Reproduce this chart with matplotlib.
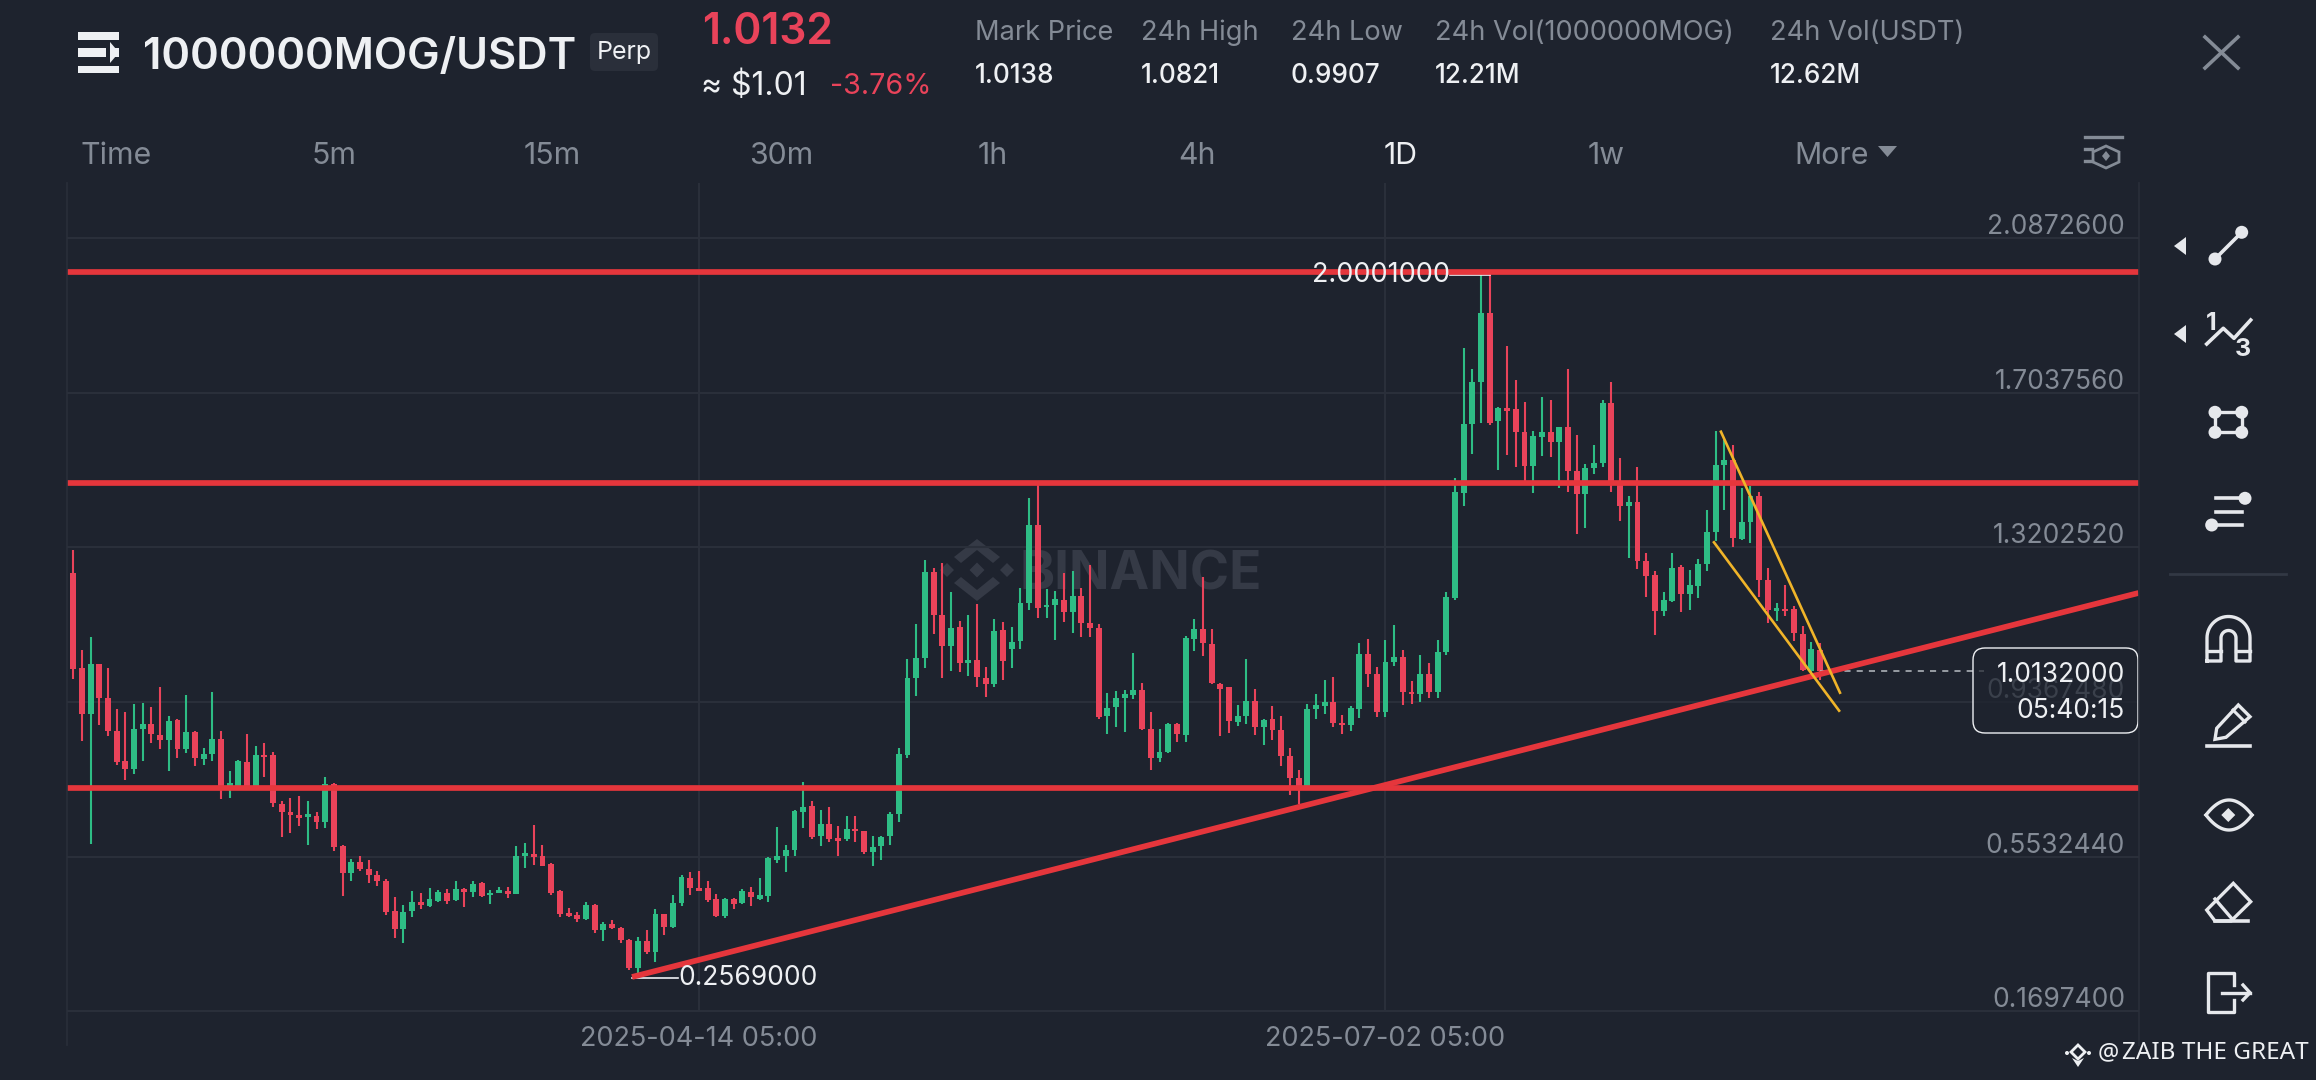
import numpy as np
import matplotlib
matplotlib.use("Agg")
import matplotlib.pyplot as plt
from matplotlib.patches import Circle, FancyBboxPatch, Polygon, Rectangle

# daily candles, left to right
opens = [1.258, 1.022, 0.908, 1.031, 0.948, 0.866, 0.790, 0.771, 0.871, 0.882,
         0.856, 0.843, 0.893, 0.820, 0.863, 0.795, 0.809, 0.845, 0.725, 0.725,
         0.787, 0.725, 0.805, 0.805, 0.685, 0.664, 0.657, 0.652, 0.654, 0.640,
         0.734, 0.579, 0.513, 0.540, 0.523, 0.508, 0.494, 0.418, 0.375, 0.418,
         0.442, 0.432, 0.444, 0.464, 0.446, 0.474, 0.465, 0.487, 0.457, 0.464,
         0.467, 0.461, 0.556, 0.558, 0.554, 0.536, 0.467, 0.414, 0.409, 0.398,
         0.434, 0.371, 0.387, 0.376, 0.347, 0.277, 0.343, 0.317, 0.411, 0.380,
         0.439, 0.500, 0.474, 0.475, 0.449, 0.406, 0.447, 0.439, 0.465, 0.449,
         0.456, 0.544, 0.554, 0.571, 0.665, 0.678, 0.604, 0.635, 0.597, 0.596,
         0.622, 0.616, 0.566, 0.579, 0.604, 0.659, 0.806, 0.996, 1.045, 1.259,
         1.152, 1.076, 1.124, 1.033, 1.041, 0.997, 0.982, 1.116, 1.069, 1.088,
         1.182, 1.375, 1.172, 1.177, 1.191, 1.160, 1.201, 1.132, 1.121, 0.901,
         0.924, 0.946, 0.954, 0.967, 0.870, 0.797, 0.812, 0.882, 0.855, 1.094,
         1.119, 1.080, 0.981, 0.973, 0.888, 0.903, 0.940, 0.876, 0.894, 0.868,
         0.802, 0.748, 0.725, 0.919, 0.927, 0.937, 0.885, 0.880, 0.919, 1.055,
         1.006, 0.911, 1.035, 1.049, 0.962, 0.956, 1.006, 0.962, 1.061, 1.195,
         1.455, 1.626, 1.732, 1.901, 1.633, 1.664, 1.664, 1.608, 1.523, 1.594,
         1.607, 1.581, 1.620, 1.511, 1.454, 1.517, 1.530, 1.678, 1.476, 1.424,
         1.432, 1.286, 1.251, 1.162, 1.187, 1.272, 1.206, 1.224, 1.280, 1.358,
         1.525, 1.538, 1.341, 1.383, 1.449, 1.239, 1.162, 1.168, 1.167, 1.105,
         1.014, 1.066]
highs = [1.314, 1.066, 1.099, 1.031, 1.022, 0.919, 0.911, 0.931, 0.934, 0.924,
         0.973, 0.901, 0.896, 0.954, 0.866, 0.822, 0.962, 0.864, 0.767, 0.794,
         0.857, 0.828, 0.835, 0.812, 0.692, 0.698, 0.703, 0.692, 0.665, 0.752,
         0.736, 0.583, 0.548, 0.556, 0.546, 0.517, 0.497, 0.454, 0.434, 0.468,
         0.464, 0.475, 0.470, 0.472, 0.494, 0.475, 0.492, 0.490, 0.470, 0.479,
         0.479, 0.579, 0.588, 0.633, 0.583, 0.538, 0.470, 0.426, 0.416, 0.441,
         0.436, 0.391, 0.395, 0.380, 0.348, 0.353, 0.371, 0.423, 0.411, 0.459,
         0.508, 0.515, 0.517, 0.493, 0.461, 0.451, 0.451, 0.472, 0.478, 0.500,
         0.552, 0.628, 0.581, 0.668, 0.739, 0.692, 0.668, 0.676, 0.630, 0.654,
         0.655, 0.618, 0.604, 0.604, 0.664, 0.822, 1.043, 1.130, 1.290, 1.270,
         1.282, 1.211, 1.138, 1.154, 1.179, 1.025, 1.144, 1.135, 1.124, 1.220,
         1.443, 1.478, 1.218, 1.212, 1.256, 1.262, 1.220, 1.276, 1.130, 0.960,
         0.965, 0.967, 1.058, 0.984, 0.913, 0.871, 0.885, 0.886, 1.101, 1.144,
         1.248, 1.119, 0.984, 0.975, 0.929, 1.043, 0.970, 0.894, 0.927, 0.901,
         0.824, 0.769, 0.932, 0.956, 0.992, 0.998, 0.904, 0.927, 1.083, 1.094,
         1.025, 1.091, 1.128, 1.066, 0.989, 1.053, 1.033, 1.091, 1.209, 1.492,
         1.814, 1.763, 1.996, 2.000, 1.670, 1.820, 1.736, 1.682, 1.610, 1.693,
         1.685, 1.620, 1.762, 1.600, 1.528, 1.575, 1.686, 1.730, 1.543, 1.447,
         1.521, 1.307, 1.261, 1.210, 1.307, 1.278, 1.264, 1.292, 1.414, 1.610,
         1.587, 1.575, 1.468, 1.473, 1.459, 1.270, 1.183, 1.228, 1.175, 1.125,
         1.086, 1.0821]
lows = [0.993, 0.841, 0.585, 0.880, 0.853, 0.781, 0.744, 0.758, 0.791, 0.835,
        0.820, 0.765, 0.797, 0.810, 0.779, 0.781, 0.791, 0.696, 0.698, 0.725,
        0.725, 0.725, 0.752, 0.676, 0.603, 0.612, 0.630, 0.583, 0.622, 0.624,
        0.567, 0.456, 0.494, 0.518, 0.489, 0.480, 0.409, 0.352, 0.340, 0.404,
        0.424, 0.429, 0.441, 0.437, 0.444, 0.428, 0.452, 0.454, 0.436, 0.462,
        0.451, 0.460, 0.525, 0.533, 0.530, 0.457, 0.403, 0.403, 0.390, 0.396,
        0.365, 0.343, 0.373, 0.340, 0.272, 0.257, 0.313, 0.291, 0.360, 0.376,
        0.432, 0.457, 0.469, 0.441, 0.404, 0.400, 0.423, 0.437, 0.431, 0.446,
        0.442, 0.538, 0.515, 0.556, 0.624, 0.597, 0.579, 0.589, 0.556, 0.593,
        0.589, 0.560, 0.531, 0.546, 0.583, 0.639, 0.797, 0.951, 1.022, 1.105,
        0.997, 1.014, 1.012, 1.002, 0.975, 0.949, 0.975, 0.991, 1.022, 1.068,
        1.165, 1.146, 1.146, 1.092, 1.135, 1.109, 1.097, 1.099, 0.896, 0.857,
        0.874, 0.863, 0.944, 0.868, 0.769, 0.787, 0.810, 0.838, 0.837, 1.064,
        1.051, 0.981, 0.853, 0.860, 0.878, 0.882, 0.855, 0.830, 0.843, 0.777,
        0.705, 0.684, 0.725, 0.894, 0.907, 0.876, 0.857, 0.866, 0.898, 0.975,
        0.899, 0.899, 1.026, 0.929, 0.931, 0.937, 0.948, 0.948, 1.053, 1.189,
        1.422, 1.553, 1.630, 1.624, 1.513, 1.550, 1.520, 1.484, 1.455, 1.548,
        1.544, 1.468, 1.459, 1.353, 1.369, 1.503, 1.521, 1.458, 1.385, 1.293,
        1.267, 1.198, 1.104, 1.150, 1.185, 1.160, 1.165, 1.195, 1.261, 1.336,
        1.414, 1.322, 1.338, 1.332, 1.198, 1.134, 1.138, 1.150, 1.088, 1.014,
        1.011, 0.9907]
closes = [1.020, 0.908, 1.031, 0.948, 0.866, 0.787, 0.771, 0.871, 0.882, 0.857,
          0.843, 0.891, 0.820, 0.863, 0.797, 0.809, 0.845, 0.725, 0.736, 0.791,
          0.725, 0.805, 0.800, 0.687, 0.664, 0.657, 0.650, 0.657, 0.639, 0.734,
          0.577, 0.512, 0.540, 0.523, 0.508, 0.492, 0.416, 0.373, 0.416, 0.442,
          0.434, 0.447, 0.465, 0.444, 0.474, 0.465, 0.486, 0.456, 0.464, 0.470,
          0.461, 0.556, 0.563, 0.553, 0.531, 0.464, 0.412, 0.406, 0.398, 0.434,
          0.371, 0.387, 0.376, 0.346, 0.277, 0.345, 0.317, 0.411, 0.380, 0.439,
          0.503, 0.475, 0.469, 0.445, 0.406, 0.449, 0.437, 0.467, 0.453, 0.457,
          0.550, 0.556, 0.571, 0.666, 0.676, 0.602, 0.635, 0.597, 0.593, 0.622,
          0.617, 0.564, 0.577, 0.602, 0.659, 0.807, 0.996, 1.045, 1.259, 1.152,
          1.076, 1.121, 1.033, 1.041, 0.998, 0.982, 1.113, 1.039, 1.087, 1.182,
          1.375, 1.171, 1.177, 1.193, 1.160, 1.201, 1.132, 1.121, 0.899, 0.923,
          0.946, 0.956, 0.967, 0.870, 0.797, 0.812, 0.883, 0.857, 1.096, 1.119,
          1.083, 0.984, 0.970, 0.890, 0.901, 0.940, 0.876, 0.893, 0.868, 0.802,
          0.748, 0.729, 0.919, 0.929, 0.937, 0.885, 0.880, 0.923, 1.055, 1.006,
          0.911, 1.035, 1.049, 0.962, 0.956, 1.006, 0.962, 1.061, 1.198, 1.457,
          1.626, 1.732, 1.901, 1.630, 1.666, 1.660, 1.608, 1.523, 1.596, 1.607,
          1.581, 1.620, 1.509, 1.454, 1.517, 1.530, 1.678, 1.476, 1.422, 1.432,
          1.286, 1.249, 1.162, 1.190, 1.270, 1.206, 1.226, 1.280, 1.358, 1.525,
          1.538, 1.344, 1.383, 1.447, 1.239, 1.165, 1.171, 1.162, 1.109, 1.016,
          1.068, 1.0132]

price_ticks = [2.08726, 1.703756, 1.320252, 0.936748, 0.553244, 0.16974]
price_labels = ["2.0872600", "1.7037560", "1.3202520", "0.9367480", "0.5532440", "0.1697400"]
date_ticks = [72, 151]
date_labels = ["2025-04-14 05:00", "2025-07-02 05:00"]

# hand drawn levels and lines on the chart
levels = [2.004, 1.480, 0.724]
trend_x = [64.3, 237.65]
trend_y = [0.2548, 1.2074]
wedge_upper_x = [189.6, 203.3]
wedge_upper_y = [1.6075, 0.9600]
wedge_lower_x = [188.8, 203.2]
wedge_lower_y = [1.3331, 0.9154]

last_price = 1.0132
high_label = "2.0001000"
low_label = "0.2569000"

stat_names = ["Mark Price", "24h High", "24h Low", "24h Vol(1000000MOG)", "24h Vol(USDT)"]
stat_values = ["1.0138", "1.0821", "0.9907", "12.21M", "12.62M"]
intervals = ["Time", "5m", "15m", "30m", "1h", "4h", "1D", "1w", "More"]

BG = "#1e232e"
GRID = "#2a2f3a"
RED = "#e9435a"
GREEN = "#2ebd85"
LINE_RED = "#e5363c"
YELLOW = "#f0b429"
GRAY = "#848b96"
WHITE = "#eef0f3"
FONT = "Inter"

plt.rcParams["font.family"] = [FONT, "DejaVu Sans"]

W, H = 2316, 1080
fig = plt.figure(figsize=(W / 100, H / 100), dpi=100, facecolor=BG)


def pixel_axes(zorder):
    a = fig.add_axes([0, 0, 1, 1], zorder=zorder)
    a.set_xlim(0, W); a.set_ylim(H, 0)
    a.axis("off")
    a.patch.set_alpha(0)
    return a


under = pixel_axes(0)
over = pixel_axes(5)

# chart area runs x 67..2138.5, y 183..1012 in pixels
ax = fig.add_axes([67 / W, 1 - 1012 / H, (2138.5 - 67) / W, (1012 - 183) / H], zorder=2)
ax.patch.set_alpha(0)
ax.set_xlim(-0.714, 237.65)
ax.set_ylim(0.1679, 2.2245)
for s in ax.spines.values():
    s.set_visible(False)

ax.set_yticks(price_ticks)
ax.set_yticklabels([])
ax.set_xticks(date_ticks)
ax.set_xticklabels(date_labels, color=GRAY, fontsize=19.5)
ax.tick_params(axis="both", length=0)
ax.tick_params(axis="x", pad=10)
ax.grid(True, color=GRID, linewidth=1.5, zorder=0)
ax.set_axisbelow(True)

xs = np.arange(len(opens))
o = np.array(opens); c = np.array(closes)
colors = [GREEN if b >= a else RED for a, b in zip(opens, closes)]
ax.vlines(xs, lows, highs, colors=colors, linewidth=1.5, zorder=2)
ax.bar(xs, np.maximum(np.abs(c - o), 0.006), bottom=np.minimum(o, c), width=0.68,
       color=colors, linewidth=0, zorder=3)

for lv in levels:
    ax.axhline(lv, color=LINE_RED, linewidth=4.1, zorder=5, solid_capstyle="butt")
ax.plot(trend_x, trend_y, color=LINE_RED, linewidth=4.1, zorder=5, solid_capstyle="butt")
ax.plot(wedge_upper_x, wedge_upper_y, color=YELLOW, linewidth=1.9, zorder=6)
ax.plot(wedge_lower_x, wedge_lower_y, color=YELLOW, linewidth=1.9, zorder=6)
ax.plot([len(opens) - 1, 219.9], [last_price, last_price], color="#b9bdc4", linewidth=1.1,
        linestyle=(0, (4, 4)), zorder=4)

# min / max markers
ax.plot([163, 158.4], [1.9975, 1.9975], color=WHITE, linewidth=1.2, zorder=4)
ax.annotate(high_label, (158.4, 1.9975), xytext=(0, 0), textcoords="offset points",
            ha="right", va="center", color=WHITE, fontsize=19.5, zorder=7)
ax.plot([64.3, 69.6], [0.2522, 0.2522], color=WHITE, linewidth=1.2, zorder=4)
ax.annotate(low_label, (69.6, 0.2522), xytext=(0, 0), textcoords="offset points",
            ha="left", va="center", color=WHITE, fontsize=19, zorder=7)

for t, lab in zip(price_ticks, price_labels):
    ax.annotate(lab, (1, t), xycoords=("axes fraction", "data"), xytext=(-9.7, 2.9),
                textcoords="offset points", ha="right", va="baseline", color=GRAY, fontsize=19)

# axis frame lines reach past the plot
for x in (67, 2138.5):
    over.plot([x, x], [183, 1045], color=GRID, linewidth=1.2)

# price box
over.add_patch(FancyBboxPatch((1979, 654), 153, 73, boxstyle="round,pad=6,rounding_size=12",
                              fc=(0.118, 0.137, 0.18, 0.72), ec=WHITE, linewidth=1.0))
over.text(2125, 675, f"{last_price:.7f}", ha="right", va="center", color=WHITE, fontsize=19)
over.text(2125, 711, "05:40:15", ha="right", va="center", color=WHITE, fontsize=19)

# watermark
WM = "#353a46"
under.text(1141, 575, "BINANCE", ha="center", va="center", color=WM, fontsize=38.3, fontweight="bold")
under.add_patch(Polygon([(977, 570 - 7.5), (977 + 7.5, 570), (977, 570 + 7.5), (977 - 7.5, 570)], fc=WM))
under.add_patch(Polygon([(947, 570 - 7), (954, 570), (947, 570 + 7), (940, 570)], fc=WM, ec="none"))
under.add_patch(Polygon([(1007, 570 - 7), (1014, 570), (1007, 570 + 7), (1000, 570)], fc=WM, ec="none"))
under.add_patch(Polygon([(977, 539), (1000, 557), (993, 563), (977, 550), (961, 563), (954, 557)], fc=WM))
under.add_patch(Polygon([(977, 601), (1000, 583), (993, 577), (977, 590), (961, 577), (954, 583)], fc=WM))

# header
for y0, y1 in ((32, 40), (48, 57), (66, 73)):
    over.add_patch(Rectangle((78, y0), 41, y1 - y0, fc=WHITE, ec="none"))
over.add_patch(Rectangle((106, 40), 4, 26, fc=BG, ec="none"))
over.add_patch(Polygon([(110, 42), (119, 52.5), (110, 63)], fc=WHITE, ec="none"))
over.text(143, 57, "1000000MOG/USDT", ha="left", va="center", color=WHITE, fontsize=31.3, fontweight=600)
over.add_patch(FancyBboxPatch((594, 37), 60, 30, boxstyle="round,pad=4,rounding_size=5", fc="#2a2f3a", ec="none"))
over.text(624, 53, "Perp", ha="center", va="center", color=WHITE, fontsize=18)
over.text(702, 32, "1.0132", ha="left", va="center", color=RED, fontsize=30.5, fontweight=600)
over.text(701, 87, "≈ $1.01", ha="left", va="center", color=WHITE, fontsize=23)
over.text(830, 87, "-3.76%", ha="left", va="center", color=RED, fontsize=20.7)

stat_x = [975, 1141, 1291, 1435, 1770]
for x, name, val in zip(stat_x, stat_names, stat_values):
    over.text(x, 33, name, ha="left", va="center", color=GRAY, fontsize=19.6)
    over.text(x, 76, val, ha="left", va="center", color=WHITE, fontsize=18.8, fontweight=500)

interval_x = [81, 312, 524, 749, 978, 1178, 1384, 1588, 1794]
for x, name in zip(interval_x, intervals):
    over.text(x, 156, name, ha="left", va="center", fontsize=21.8,
              color=WHITE if name == "1D" else GRAY)
over.add_patch(Polygon([(1878, 146), (1897, 146), (1887.5, 157)], fc=GRAY, ec="none"))

# filter icon
over.plot([2085, 2122], [136.5, 136.5], color=GRAY, linewidth=2.4)
over.plot([2085, 2092], [149, 149], color=GRAY, linewidth=2.4)
over.plot([2085, 2092], [161, 161], color=GRAY, linewidth=2.4)
over.add_patch(Polygon([(2106, 146), (2119, 152), (2119, 162), (2106, 168), (2093, 162), (2093, 152)],
                       fc="none", ec=GRAY, linewidth=2))
over.add_patch(Polygon([(2106, 151), (2110, 156), (2106, 161), (2102, 156)], fc=GRAY, ec="none"))
# close
over.plot([2205, 2238], [37, 68], color=GRAY, linewidth=2.6)
over.plot([2205, 2238], [68, 37], color=GRAY, linewidth=2.6)

# right toolbar
IC = "#e6e8ec"
for y in (246, 334):
    over.add_patch(Polygon([(2186, y - 9), (2186, y + 9), (2174, y)], fc=IC, ec="none"))
over.plot([2215, 2241.7], [259, 232.3], color=IC, linewidth=2.6)
over.add_patch(Circle((2215, 259), 6.5, fc=IC, ec="none"))
over.add_patch(Circle((2241.7, 232.3), 6.5, fc=IC, ec="none"))
over.plot([2206.7, 2223.3, 2234, 2250.7], [344, 328.3, 338.3, 320], color=IC, linewidth=2.6)
over.text(2211, 323, "1", ha="center", va="center", color=IC, fontsize=18, fontweight="bold")
over.text(2243.3, 350, "3", ha="center", va="center", color=IC, fontsize=18, fontweight="bold")
over.add_patch(Rectangle((2215, 412.3), 26.7, 20, fc="none", ec=IC, linewidth=2.4))
for cx, cy in ((2215, 412.3), (2241.7, 412.3), (2215, 432.3), (2241.7, 432.3)):
    over.add_patch(Circle((cx, cy), 6.5, fc=IC, ec="none"))
over.plot([2215.7, 2245], [498.3, 498.3], color=IC, linewidth=2.6)
over.plot([2215.7, 2241.7], [511.7, 511.7], color=IC, linewidth=2.6)
over.plot([2211.7, 2241.7], [525, 525], color=IC, linewidth=2.6)
over.add_patch(Circle((2245, 498.3), 6.5, fc=IC, ec="none"))
over.add_patch(Circle((2211.7, 525), 6.5, fc=IC, ec="none"))
over.plot([2170, 2286], [574, 574], color="#323844", linewidth=2)

# magnet
t = np.linspace(np.pi, 2 * np.pi, 30)
mx = np.r_[2207, 2228.5 + 21.5 * np.cos(t), 2250, 2236, 2228.5 + 7.5 * np.cos(t[::-1]), 2221, 2207]
my = np.r_[661, 638 + 21.5 * np.sin(t), 661, 661, 638 + 7.5 * np.sin(t[::-1]), 661, 661]
over.plot(mx, my, color=IC, linewidth=2.4)
over.plot([2207, 2221], [651, 651], color=IC, linewidth=2.4)
over.plot([2236, 2250], [651, 651], color=IC, linewidth=2.4)
# pencil
over.add_patch(Polygon([(2238.3, 705), (2250, 716.7), (2226, 737.3), (2215, 739.3), (2216.7, 728.3)],
                       fc="none", ec=IC, linewidth=2.4))
over.plot([2233, 2245], [710, 722], color=IC, linewidth=2.2)
over.plot([2207, 2250], [746, 746], color=IC, linewidth=2.6)
# eye
u = np.linspace(-1, 1, 40)
over.plot(2229 + 23 * u, 815 - 15 * (1 - u ** 2), color=IC, linewidth=2.4)
over.plot(2229 + 23 * u, 815 + 15 * (1 - u ** 2), color=IC, linewidth=2.4)
over.add_patch(Polygon([(2228.3, 808), (2235.3, 815), (2228.3, 822), (2221.3, 815)], fc=IC, ec="none"))
# eraser
over.add_patch(Polygon([(2233.3, 883.3), (2250.7, 901.7), (2231, 921), (2215, 921), (2206.7, 910)],
                       fc="none", ec=IC, linewidth=2.4))
over.plot([2215, 2233], [899, 920], color=IC, linewidth=2.4)
over.plot([2215, 2248], [920.5, 920.5], color=IC, linewidth=2.6)
# exit
over.plot([2234, 2234, 2208.3, 2208.3, 2234, 2234], [985, 973.3, 973.3, 1011.7, 1011.7, 1000],
          color=IC, linewidth=2.4)
over.plot([2222, 2250], [992.7, 992.7], color=IC, linewidth=2.4)
over.plot([2243, 2250, 2243], [985, 992.7, 1000], color=IC, linewidth=2.4)

# share stamp
over.add_patch(Polygon([(2078, 1045), (2085, 1052), (2078, 1059), (2071, 1052)], fc="none", ec=WHITE, linewidth=2))
over.add_patch(Circle((2067, 1053), 2, fc=WHITE, ec="none"))
over.add_patch(Circle((2089, 1053), 2, fc=WHITE, ec="none"))
over.add_patch(Polygon([(2078, 1061), (2084, 1058), (2078, 1067), (2072, 1058)], fc=WHITE, ec="none"))
over.text(2098, 1053, "@", ha="left", va="center", color=WHITE, fontsize=17, family=["Noto Sans"])
over.text(2122, 1053, "ZAIB THE GREAT", ha="left", va="center", color=WHITE, fontsize=17.5, family=["Noto Sans"])

fig.savefig("out.png", dpi=100, facecolor=BG)
